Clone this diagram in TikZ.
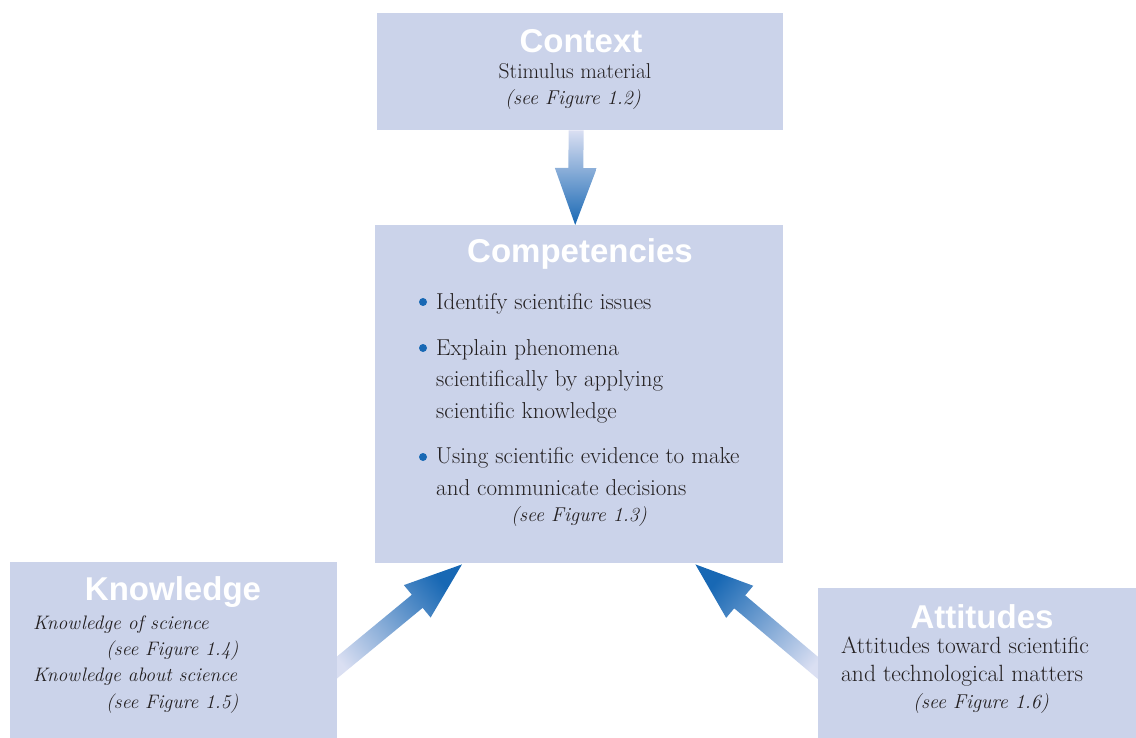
\documentclass[tikz,border=0pt]{standalone}
\usepackage{fontspec}
\setsansfont{Liberation Sans}
\usetikzlibrary{calc,backgrounds}

\definecolor{panelblue}{RGB}{203,211,234}
\definecolor{arrowblue}{RGB}{24,104,180}
\definecolor{arrowpale}{RGB}{218,223,242}
\definecolor{inkgrey}{RGB}{35,31,32}

\tikzset{
	panel/.style={fill=panelblue, anchor=north west, inner sep=0pt},
	heading/.style={anchor=base, inner sep=0pt, text=white, font=\sffamily\bfseries\fontsize{33}{33}\selectfont},
	bodytext/.style={anchor=base west, align=left, inner sep=0pt, text=inkgrey, font=\fontsize{23}{31.5}\selectfont},
	figref/.style={anchor=base, inner sep=0pt, text=inkgrey, font=\itshape\fontsize{20}{20}\selectfont},
	fatarrow/.style={top color=arrowblue, bottom color=arrowpale}
}

\begin{document}
\begin{tikzpicture}[x=1pt,y=-1pt]
	\useasboundingbox (0,0) rectangle (1136,738);

	% boxes
	\node[panel, minimum width=406pt, minimum height=117pt] (context) at (377,13) {};
	\node[panel, minimum width=408pt, minimum height=338pt] (competencies) at (375,225) {};
	\node[panel, minimum width=327pt, minimum height=176pt] (knowledge) at (10,562) {};
	\node[panel, minimum width=318pt, minimum height=150pt] (attitudes) at (818,588) {};

	% context
	\node[heading] (contexttitle) at (581,53) {Context};
	\node[bodytext, anchor=base, font=\fontsize{21.5}{21.5}\selectfont] (stimulus) at (575,79) {Stimulus material};
	\node[figref] (contextref) at (573,105) {(see Figure 1.2)};

	% competencies
	\node[heading] (competenciestitle) at (580,263) {Competencies};
	\node[bodytext] (identify) at (436,309) {Identify scientific issues};
	\node[bodytext] (explain) at (436,418) {Explain phenomena\\ scientifically by applying\\ scientific knowledge};
	\node[bodytext] (evidence) at (436,495) {Using scientific evidence to make\\ and communicate decisions};
	\node[figref] (competenciesref) at (579,521) {(see Figure 1.3)};
	\foreach \y in {302,348,457}
		\fill[arrowblue] (423,\y) circle (4);

	% knowledge
	\node[heading] (knowledgetitle) at (173,600) {Knowledge};
	\node[bodytext, font=\itshape\fontsize{19.5}{26.3}\selectfont] (knowledgetext) at (33,708) {Knowledge of science\\ \hspace*{73pt}(see Figure 1.4)\\ Knowledge about science\\ \hspace*{73pt}(see Figure 1.5)};

	% attitudes
	\node[heading] (attitudestitle) at (982,628) {Attitudes};
	\node[bodytext, font=\fontsize{23.5}{27.3}\selectfont] (attitudestext) at (841,681) {Attitudes toward scientific\\ and technological matters};
	\node[figref] (attitudesref) at (981,708) {(see Figure 1.6)};

	% arrow ends
	\coordinate (contexttail) at ($(context.south)+(-4,0)$);
	\coordinate (contexttip) at ($(competencies.north)+(-4,0)$);
	\coordinate (knowledgetail) at ($(knowledge.south east)+(-10,-63)$);
	\coordinate (knowledgetip) at ($(competencies.south west)+(87,1)$);
	\coordinate (attitudestail) at ($(attitudes.south west)+(10,-62)$);
	\coordinate (attitudestip) at ($(competencies.south east)+(-88,1)$);

	\begin{pgfonlayer}{background}
	\shade[fatarrow, shading angle=180] let \p1=($(contexttip)-(contexttail)$), \n1={veclen(\x1,\y1)}, \n2={atan2(\y1,\x1)} in
		[shift={(contexttail)}, rotate=\n2] (0,-7.5) -- ({\n1-57},-7.5) -- ({\n1-57},-21) -- (\n1,0) -- ({\n1-57},21) -- ({\n1-57},7.5) -- (0,7.5) -- cycle;
	\shade[fatarrow, shading angle=-50.5] let \p1=($(knowledgetip)-(knowledgetail)$), \n1={veclen(\x1,\y1)}, \n2={atan2(\y1,\x1)} in
		[shift={(knowledgetail)}, rotate=\n2] (0,-8.5) -- ({\n1-58},-8.5) -- ({\n1-58},-21) -- (\n1,0) -- ({\n1-58},21) -- ({\n1-58},8.5) -- (0,8.5) -- cycle;
	\shade[fatarrow, shading angle=50] let \p1=($(attitudestip)-(attitudestail)$), \n1={veclen(\x1,\y1)}, \n2={atan2(\y1,\x1)} in
		[shift={(attitudestail)}, rotate=\n2] (0,-8.5) -- ({\n1-58},-8.5) -- ({\n1-58},-21) -- (\n1,0) -- ({\n1-58},21) -- ({\n1-58},8.5) -- (0,8.5) -- cycle;
	\end{pgfonlayer}
\end{tikzpicture}
\end{document}
